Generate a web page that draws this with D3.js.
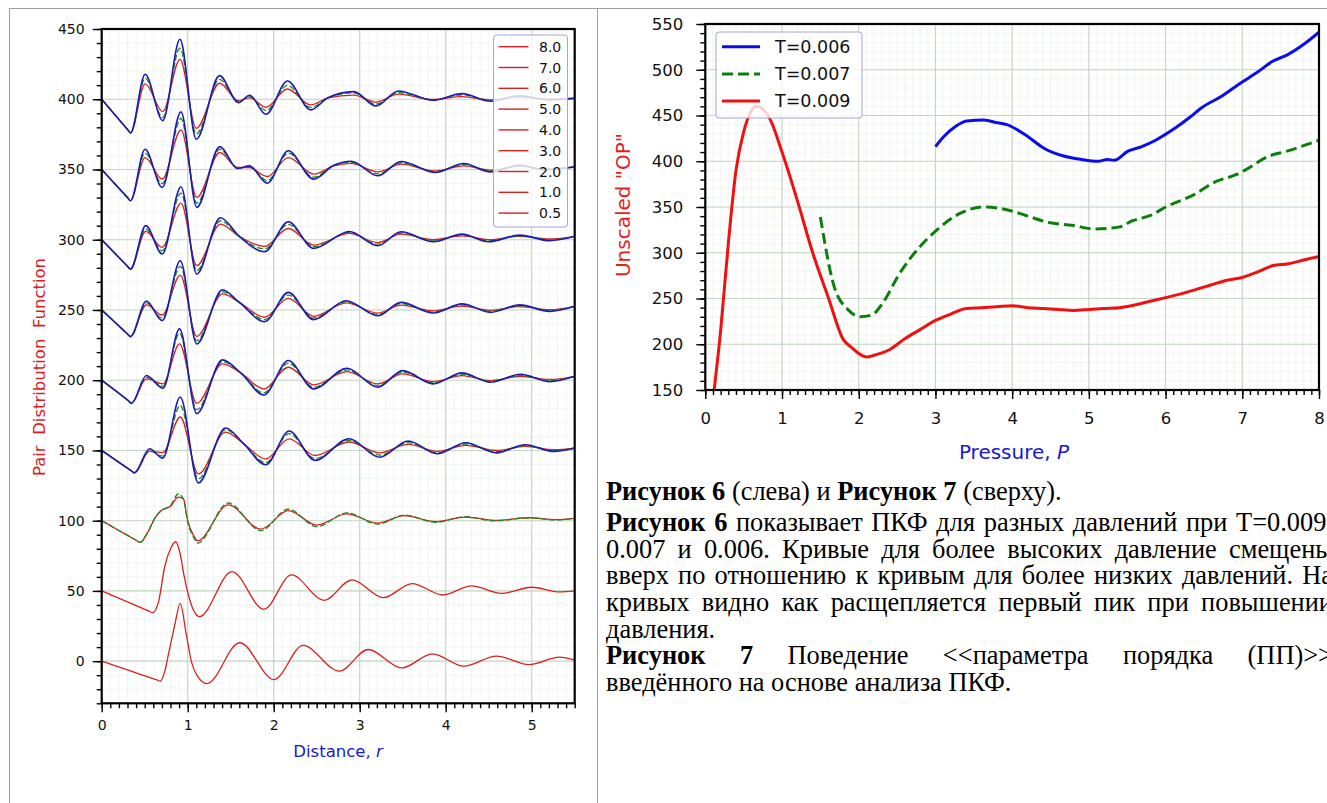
<!DOCTYPE html>
<html lang="ru">
<head>
<meta charset="UTF-8">
<title>ПКФ и параметр порядка</title>
<script src="https://cdn.jsdelivr.net/npm/d3@7"></script>
<style>
  body { margin: 0; background: #fff; }
  #page { position: relative; width: 1327px; height: 803px; overflow: hidden; }
</style>
</head>
<body>
<div id="page"></div>
<script>
// ---------- Figure 6: pair distribution function, one curve per pressure ----------
// every curve is shifted by 50 (values below already include the shift)
var pressureLabels = ["8.0", "7.0", "6.0", "5.0", "4.0", "3.0", "2.0", "1.0", "0.5"];

var r80     = [0, 0.16, 0.30, 0.335, 0.505, 0.71, 0.91, 1.10, 1.37, 1.59, 1.72, 1.91, 2.16, 2.43, 2.63, 2.93, 3.19, 3.45, 3.85, 4.19, 4.52, 4.86, 5.19, 5.5];
var blue80  = [400, 388.5, 378.5, 376, 417.8, 384.8, 442.7, 371.5, 416.8, 397.6, 402.8, 389.3, 413.0, 392.4, 401, 405.4, 395.2, 405.9, 399.3, 404.0, 398.6, 402.5, 399.5, 400.8];
var green80 = [400, 388.5, 378.5, 376, 414.9, 387.1, 436.3, 375.3, 414.2, 398.2, 402, 392.0, 409.9, 394.2, 401, 404.5, 396.5, 404.8, 399.5, 403.2, 399, 402, 399.8, 400.6];
var red80   = [400, 388.5, 378.5, 376.2, 410.9, 391.2, 428.4, 379.3, 411.4, 399, 401, 394.3, 407.3, 396.0, 401, 403.0, 398.0, 403.6, 399.8, 401.9, 399.5, 401.5, 400, 400.5];

var r70     = [0, 0.16, 0.30, 0.334, 0.504, 0.704, 0.922, 1.105, 1.373, 1.58, 1.716, 1.925, 2.17, 2.464, 2.70, 2.90, 3.21, 3.48, 3.88, 4.21, 4.52, 4.86, 5.15, 5.5];
var blue70  = [350, 339.3, 330, 327.7, 364.4, 337.2, 391.0, 323.0, 366.3, 350.7, 352.6, 340.3, 363.3, 343.1, 353, 355.9, 345.5, 355.7, 347.9, 354.3, 348.3, 353, 349.8, 351.9];
var green70 = [350, 339.3, 330, 327.7, 361.6, 340, 386.3, 326, 364.4, 351, 352, 342, 361.6, 344.5, 353, 355.1, 346.8, 354.8, 348.4, 353.5, 348.8, 352.7, 350, 351.8];
var red70   = [350, 339.3, 330, 327.9, 358.5, 343.1, 378.2, 330.1, 362.1, 351.4, 351.4, 345, 358.5, 346.7, 352.5, 354.3, 348.3, 353.8, 349, 352.6, 349.5, 352.4, 350.2, 351.7];

var r60     = [0, 0.16, 0.30, 0.334, 0.512, 0.704, 0.922, 1.105, 1.38, 1.60, 1.894, 2.17, 2.464, 2.88, 3.21, 3.48, 3.855, 4.19, 4.50, 4.86, 5.21, 5.5];
var blue60  = [300, 289.9, 281.1, 279, 310, 289.8, 337.7, 275.6, 315.6, 302.4, 291.5, 312.8, 293.8, 305.9, 295.7, 305.7, 298.6, 304, 298.6, 303.3, 299.3, 302.4];
var green60 = [300, 289.9, 281.1, 279, 307.6, 292.2, 333.2, 278, 313.5, 302.4, 293.4, 310.9, 295, 305.2, 296.8, 304.8, 299.2, 303.4, 299.2, 302.8, 299.8, 302.4];
var red60   = [300, 289.9, 281.1, 279.2, 305.9, 294.6, 326.1, 281.5, 311.1, 302.4, 295.2, 308.0, 296.2, 304.5, 298, 304, 300, 302.8, 300, 302.4, 300.5, 302.4];

var r50     = [0, 0.16, 0.30, 0.334, 0.52, 0.704, 0.914, 1.105, 1.404, 1.60, 1.894, 2.17, 2.464, 2.843, 3.21, 3.48, 3.855, 4.19, 4.52, 4.86, 5.21, 5.5];
var blue50  = [250, 240.9, 232.9, 231, 256.4, 242.4, 285, 225.8, 264.4, 255.4, 241.7, 262.5, 243.1, 256.6, 245.9, 255.4, 247.8, 254.3, 248.3, 253.6, 249, 252.6];
var green50 = [250, 240.9, 232.9, 231, 255, 244.1, 281, 228.1, 263, 255.4, 243.1, 260.6, 244.3, 255.8, 246.8, 254.5, 248.5, 253.5, 249, 253, 249.6, 252.6];
var red50   = [250, 240.9, 232.9, 231.2, 253.6, 246.4, 274.8, 231.2, 261.4, 255.4, 244.8, 258.3, 245.5, 255, 247.8, 253.5, 249.3, 252.8, 249.7, 252.4, 250.2, 252.6];

var r40     = [0, 0.16, 0.31, 0.345, 0.52, 0.713, 0.905, 1.105, 1.404, 1.62, 1.885, 2.17, 2.464, 2.852, 3.21, 3.50, 3.855, 4.19, 4.52, 4.87, 5.21, 5.5];
var blue40  = [200, 192.5, 185.4, 183.5, 203.3, 194.3, 236.5, 176.2, 214.5, 205, 189.5, 214, 193.8, 208.5, 195, 206.8, 197.4, 205.2, 198.5, 204.2, 199, 202.8];
var green40 = [200, 192.5, 185.4, 183.5, 202, 195.7, 233.4, 179, 213.2, 205, 191, 212.1, 195, 207.3, 196.2, 205.7, 198.2, 204.2, 199.1, 203.5, 199.7, 202.8];
var red40   = [200, 192.5, 185.4, 183.7, 200.9, 197.4, 225.8, 183.5, 211.6, 205, 193.8, 209.2, 196.7, 206.1, 197.4, 204.5, 199, 203.3, 199.7, 202.8, 200.5, 202.8];

var r30     = [0, 0.18, 0.34, 0.379, 0.557, 0.71, 0.914, 1.123, 1.44, 1.65, 1.907, 2.18, 2.48, 2.874, 3.23, 3.565, 3.90, 4.233, 4.59, 4.924, 5.26, 5.5];
var blue30  = [150, 142.4, 135.7, 134, 151.2, 144.5, 188, 126.9, 166, 154.8, 139.8, 163.8, 142.9, 158.3, 145.2, 156.7, 147.6, 155.5, 148.3, 154, 149.3, 151.7];
var green30 = [150, 142.4, 135.7, 134, 149.5, 146, 182, 129.8, 164.8, 154.8, 141.2, 161.9, 144.2, 157.2, 146.7, 155.5, 148.4, 154.6, 149.1, 153.4, 149.8, 151.7];
var red30   = [150, 142.4, 135.7, 134.2, 149.5, 148.5, 173.8, 133.3, 163.1, 154.8, 144, 158.3, 146.4, 156, 148.3, 154.3, 149.3, 153.6, 150, 152.9, 150.5, 151.7];

var r20     = [0, 0.2, 0.40, 0.446, 0.535, 0.624, 0.69, 0.80, 0.89, 0.95, 1.0, 1.07, 1.114, 1.47, 1.85, 2.17, 2.50, 2.85, 3.21, 3.52, 3.88, 4.23, 4.57, 4.97, 5.28, 5.5];
var green20 = [100, 93, 86.1, 84.5, 91.7, 102.4, 107.1, 110.8, 119, 115.5, 99, 88, 84, 112.6, 92.9, 108.3, 95.7, 105.5, 97.6, 104, 98.8, 102.9, 99.8, 102.1, 100.5, 101.7];
var red20   = [100, 93, 86.1, 84.5, 91.7, 102.4, 107.1, 110.2, 116.7, 115.5, 100, 89.3, 85.7, 111.2, 94, 107.1, 96.9, 104.8, 98.3, 103.6, 99.3, 102.6, 100.2, 102.1, 100.7, 101.7];

var r10   = [0, 0.30, 0.55, 0.593, 0.66, 0.735, 0.80, 0.86, 0.91, 0.958, 1.047, 1.136, 1.515, 1.885, 2.206, 2.585, 2.91, 3.275, 3.61, 3.966, 4.30, 4.648, 5.0, 5.325, 5.5];
var red10 = [50, 42.2, 35.6, 34.5, 42, 67.9, 80, 85, 77, 60.7, 39.3, 31.7, 63.8, 36.9, 61.4, 43.3, 57.9, 45.2, 55.2, 47.1, 53.6, 48.3, 52.6, 49.3, 50];

var r05   = [0, 0.35, 0.64, 0.682, 0.73, 0.78, 0.847, 0.914, 0.98, 1.047, 1.114, 1.225, 1.604, 2.005, 2.34, 2.763, 3.097, 3.49, 3.846, 4.21, 4.59, 4.97, 5.325, 5.5];
var red05 = [0, -7.3, -13.4, -14.3, -8, 6, 25, 41.2, 20.2, -1.2, -10.7, -16, 13.1, -13.1, 11.2, -7.1, 8.3, -4.8, 5.2, -3.6, 3.6, -2.4, 2.9, 0.7];

var leftXTicks = [0, 1, 2, 3, 4, 5];
var leftYTicks = [0, 50, 100, 150, 200, 250, 300, 350, 400, 450];

// ---------- Figure 7: unscaled order parameter vs pressure ----------
var tempLabels = ["T=0.006", "T=0.007", "T=0.009"];

var pBlue  = [3.0, 3.11, 3.26, 3.41, 3.63, 3.81, 3.93, 4.17, 4.42, 4.66, 4.9, 5.12, 5.24, 5.33, 5.51, 5.69, 5.87, 6.12, 6.3, 6.48, 6.73, 6.97, 7.21, 7.39, 7.58, 7.82, 8.0];
var opBlue = [416, 427, 438, 444, 445, 442, 440, 429, 414, 406, 402, 400, 402, 401, 411, 416, 423, 436, 447, 459, 471, 485, 498, 509, 516, 529, 541];

var pGreen  = [1.5, 1.68, 1.87, 2.02, 2.17, 2.32, 2.53, 2.78, 3.02, 3.32, 3.63, 3.93, 4.17, 4.48, 4.78, 5.08, 5.39, 5.57, 5.81, 6.0, 6.36, 6.66, 6.91, 7.03, 7.33, 7.58, 8.0];
var opGreen = [339, 263, 237, 230, 232, 246, 277, 305, 325, 343, 350, 347, 341, 333, 330, 326, 328, 335, 341, 350, 363, 378, 385, 390, 405, 411, 423];

var pRed  = [0.115, 0.2, 0.3, 0.4, 0.5, 0.6, 0.67, 0.75, 0.85, 1.0, 1.2, 1.4, 1.6, 1.8, 1.9, 2.0, 2.1, 2.2, 2.4, 2.6, 2.8, 3.0, 3.2, 3.4, 3.6, 3.8, 4.0, 4.2, 4.4, 4.6, 4.8, 5.0, 5.2, 5.4, 5.6, 5.8, 6.0, 6.2, 6.4, 6.6, 6.8, 7.0, 7.2, 7.4, 7.6, 7.8, 8.0];
var opRed = [150, 215, 310, 390, 432, 455, 460, 457, 445, 410, 357, 300, 252, 205, 197, 190, 186, 188, 194, 206, 216, 226, 233, 239, 240, 241, 242, 240, 239, 238, 237, 238, 239, 240, 243, 247, 251, 255, 260, 265, 270, 273, 279, 286, 288, 292, 296];

var rightXTicks = [0, 1, 2, 3, 4, 5, 6, 7, 8];
var rightYTicks = [150, 200, 250, 300, 350, 400, 450, 500, 550];

// ---------- caption text (lines as in the document) ----------
var captionLines = [
  {align: "left", words: [["Рисунок", 1], ["6", 1], ["(слева)"], ["и"], ["Рисунок", 1], ["7", 1], ["(сверху)."]]},
  {align: "justify", words: [["Рисунок", 1], ["6", 1], ["показывает"], ["ПКФ"], ["для"], ["разных"], ["давлений"], ["при"], ["T=0.009,"]]},
  {align: "justify", words: "0.007 и 0.006. Кривые для более высоких давление смещены".split(" ").map(function(w) { return [w]; })},
  {align: "justify", words: "вверх по отношению к кривым для более низких давлений. На".split(" ").map(function(w) { return [w]; })},
  {align: "justify", words: "кривых видно как расщепляется первый пик при повышении".split(" ").map(function(w) { return [w]; })},
  {align: "left", words: [["давления."]]},
  {align: "justify", words: [["Рисунок", 1], ["7", 1], ["Поведение"], ["<<параметра"], ["порядка"], ["(ПП)>>"]]},
  {align: "left", words: "введённого на основе анализа ПКФ.".split(" ").map(function(w) { return [w]; })}
];

// ===================================================================
var RED = "#d8211f", GREEN = "#1f8a22", DBLUE = "#1c1cb4";
var svg = d3.select("#page").append("svg").attr("width", 1327).attr("height", 803);

// document table lines
svg.append("line").attr("x1", 9).attr("x2", 1327).attr("y1", 8.5).attr("y2", 8.5).attr("stroke", "#a0a0a0");
svg.append("line").attr("x1", 9.5).attr("x2", 9.5).attr("y1", 8).attr("y2", 803).attr("stroke", "#a0a0a0");
svg.append("line").attr("x1", 597.5).attr("x2", 597.5).attr("y1", 8).attr("y2", 803).attr("stroke", "#a0a0a0");

function drawPanel(g, x, y, o) {
  var x0 = x.range()[0], x1 = x.range()[1], y0 = y.range()[0], y1 = y.range()[1];
  // minor grid
  g.append("g").selectAll("line").data(o.xMinor).join("line")
    .attr("x1", function(d) { return x(d); }).attr("x2", function(d) { return x(d); })
    .attr("y1", y0).attr("y2", y1).attr("stroke", "#edf2ed").attr("stroke-width", 0.8);
  g.append("g").selectAll("line").data(o.yMinor).join("line")
    .attr("y1", function(d) { return y(d); }).attr("y2", function(d) { return y(d); })
    .attr("x1", x0).attr("x2", x1).attr("stroke", "#edf2ed").attr("stroke-width", 0.8);
  // major grid
  g.append("g").selectAll("line").data(o.xMajor).join("line")
    .attr("x1", function(d) { return x(d); }).attr("x2", function(d) { return x(d); })
    .attr("y1", y0).attr("y2", y1).attr("stroke", "#c3d6c3").attr("stroke-width", 1.1);
  g.append("g").selectAll("line").data(o.yMajor).join("line")
    .attr("y1", function(d) { return y(d); }).attr("y2", function(d) { return y(d); })
    .attr("x1", x0).attr("x2", x1).attr("stroke", "#c3d6c3").attr("stroke-width", 1.1);
}

function drawTicks(g, x, y, o) {
  var y0 = y.range()[0], x0 = x.range()[0];
  function style(a) {
    a.select(".domain").remove();
    a.selectAll("line").attr("stroke", "#000").attr("stroke-width", 1.4);
    a.attr("font-family", "DejaVu Sans").attr("font-size", o.font);
    a.selectAll("text").attr("fill", "#111");
  }
  g.append("g").attr("transform", "translate(0," + y0 + ")")
    .call(d3.axisBottom(x).tickValues(o.xMinor).tickSize(5).tickFormat("")).call(style);
  g.append("g").attr("transform", "translate(0," + y0 + ")")
    .call(d3.axisBottom(x).tickValues(o.xMajor).tickSize(9).tickPadding(o.xPad).tickFormat(d3.format("d"))).call(style);
  g.append("g").attr("transform", "translate(" + x0 + ",0)")
    .call(d3.axisLeft(y).tickValues(o.yMinor).tickSize(5).tickFormat("")).call(style);
  g.append("g").attr("transform", "translate(" + x0 + ",0)")
    .call(d3.axisLeft(y).tickValues(o.yMajor).tickSize(9).tickPadding(o.yPad).tickFormat(d3.format("d"))).call(style);
  g.append("rect").attr("x", x0).attr("y", y.range()[1])
    .attr("width", x.range()[1] - x0).attr("height", y0 - y.range()[1])
    .attr("fill", "none").attr("stroke", "#000").attr("stroke-width", 2.2);
}

// ---------------- left panel ----------------
var lx = d3.scaleLinear().domain([0, 5.5]).range([101.7, 574.7]);
var ly = d3.scaleLinear().domain([-30, 450]).range([703.3, 29]);
var left = svg.append("g");
var leftOpts = {
  xMinor: d3.range(0, 55.01, 1).map(function(d) { return d / 10; }),
  yMinor: d3.range(-30, 451, 10),
  xMajor: leftXTicks, yMajor: leftYTicks, font: 14, xPad: 8, yPad: 8
};
drawPanel(left, lx, ly, leftOpts);

svg.append("clipPath").attr("id", "clipL").append("rect")
  .attr("x", 101.7).attr("y", 29).attr("width", 473).attr("height", 674.3);
var curvesL = left.append("g").attr("clip-path", "url(#clipL)");

var pdf = [
  {r: r80, red: red80, green: green80, blue: blue80},
  {r: r70, red: red70, green: green70, blue: blue70},
  {r: r60, red: red60, green: green60, blue: blue60},
  {r: r50, red: red50, green: green50, blue: blue50},
  {r: r40, red: red40, green: green40, blue: blue40},
  {r: r30, red: red30, green: green30, blue: blue30},
  {r: r20, red: red20, green: green20},
  {r: r10, red: red10},
  {r: r05, red: red05}
];

function pdfLine(rs) {
  return d3.line()
    .x(function(d, i) { return lx(rs[i]); })
    .y(function(d) { return ly(d); })
    .curve(d3.curveMonotoneX);
}

pdf.forEach(function(c) {
  var line = pdfLine(c.r);
  if (c.red) curvesL.append("path").attr("d", line(c.red)).attr("fill", "none")
    .attr("stroke", RED).attr("stroke-width", 1.3);
  if (c.green) curvesL.append("path").attr("d", line(c.green)).attr("fill", "none")
    .attr("stroke", GREEN).attr("stroke-width", 1.3).attr("stroke-dasharray", "6,2.5");
  if (c.blue) curvesL.append("path").attr("d", line(c.blue)).attr("fill", "none")
    .attr("stroke", DBLUE).attr("stroke-width", 1.6);
});

drawTicks(left, lx, ly, leftOpts);

// left legend
var legL = left.append("g");
legL.append("rect").attr("x", 493.5).attr("y", 35).attr("width", 74).attr("height", 192).attr("rx", 3)
  .attr("fill", "rgba(255,255,255,0.8)").attr("stroke", "#a4a4dc");
pressureLabels.forEach(function(lab, i) {
  var yy = 46.7 + i * 20.8;
  legL.append("line").attr("x1", 498.5).attr("x2", 528.5).attr("y1", yy).attr("y2", yy)
    .attr("stroke", RED).attr("stroke-width", 1.4);
  legL.append("text").attr("x", 539).attr("y", yy).attr("dy", "0.36em")
    .attr("font-family", "DejaVu Sans").attr("font-size", 14).attr("fill", "#111").text(lab);
});

// left axis titles
left.append("text").attr("x", 338).attr("y", 756.5).attr("text-anchor", "middle")
  .attr("font-family", "DejaVu Sans").attr("font-size", 16.5).attr("fill", "#1818d0")
  .text("Distance, ").append("tspan").attr("font-style", "italic").text("r");
left.append("text").attr("transform", "translate(45,367) rotate(-90)").attr("text-anchor", "middle")
  .attr("font-family", "DejaVu Sans").attr("font-size", 16.5).attr("fill", "#dd1c1c")
  .style("white-space", "pre").text("Pair  Distribution  Function");

// ---------------- right panel ----------------
var rx = d3.scaleLinear().domain([0, 8]).range([705.3, 1319]);
var ry = d3.scaleLinear().domain([150, 550]).range([390, 24]);
var right = svg.append("g");
var rightOpts = {
  xMinor: d3.range(0, 80.01, 1).map(function(d) { return d / 10; }),
  yMinor: d3.range(150, 551, 10),
  xMajor: rightXTicks, yMajor: rightYTicks, font: 16.5, xPad: 13, yPad: 13
};
drawPanel(right, rx, ry, rightOpts);

svg.append("clipPath").attr("id", "clipR").append("rect")
  .attr("x", 705.3).attr("y", 24).attr("width", 613.7).attr("height", 366);
var curvesR = right.append("g").attr("clip-path", "url(#clipR)");

function opLine(ps) {
  return d3.line()
    .x(function(d, i) { return rx(ps[i]); })
    .y(function(d) { return ry(d); })
    .curve(d3.curveMonotoneX);
}
curvesR.append("path").attr("d", opLine(pBlue)(opBlue)).attr("fill", "none")
  .attr("stroke", "#0b0bf0").attr("stroke-width", 3);
curvesR.append("path").attr("d", opLine(pGreen)(opGreen)).attr("fill", "none")
  .attr("stroke", "#0a800a").attr("stroke-width", 3).attr("stroke-dasharray", "11,5");
curvesR.append("path").attr("d", opLine(pRed)(opRed)).attr("fill", "none")
  .attr("stroke", "#f01010").attr("stroke-width", 3);

drawTicks(right, rx, ry, rightOpts);

// right legend
var legR = right.append("g");
legR.append("rect").attr("x", 716).attr("y", 32).attr("width", 146).attr("height", 86).attr("rx", 3)
  .attr("fill", "rgba(255,255,255,0.8)").attr("stroke", "#a4a4dc");
var legColors = ["#0b0bf0", "#0a800a", "#f01010"];
tempLabels.forEach(function(lab, i) {
  var yy = 46.7 + i * 27.2;
  legR.append("line").attr("x1", 722).attr("x2", 760).attr("y1", yy).attr("y2", yy)
    .attr("stroke", legColors[i]).attr("stroke-width", 3)
    .attr("stroke-dasharray", i === 1 ? "11,5" : null);
  legR.append("text").attr("x", 775).attr("y", yy).attr("dy", "0.36em")
    .attr("font-family", "DejaVu Sans").attr("font-size", 17.5).attr("fill", "#111").text(lab);
});

right.append("text").attr("x", 1014).attr("y", 459).attr("text-anchor", "middle")
  .attr("font-family", "DejaVu Sans").attr("font-size", 20).attr("fill", "#1818d0")
  .text("Pressure, ").append("tspan").attr("font-style", "italic").text("P");
right.append("text").attr("transform", "translate(630,205) rotate(-90)").attr("text-anchor", "middle")
  .attr("font-family", "DejaVu Sans").attr("font-size", 20).attr("fill", "#e41e1e")
  .text("Unscaled \"OP\"");

// ---------------- caption ----------------
var cap = svg.append("g").attr("font-family", "Liberation Serif").attr("font-size", 26.4).attr("fill", "#000");
var capLeft = 606, capWidth = 727, capTop = 499.5, capLead = 26.6;
captionLines.forEach(function(line, li) {
  var yy = capTop + li * capLead + (li > 0 ? 5 : 0);
  var words = line.words.map(function(w) {
    var t = cap.append("text").attr("y", yy).attr("font-weight", w[1] ? "bold" : "normal").text(w[0]);
    return {node: t, w: t.node().getComputedTextLength()};
  });
  var total = d3.sum(words, function(d) { return d.w; });
  var gap = line.align === "justify" && words.length > 1 ? (capWidth - total) / (words.length - 1) : 6.6;
  gap = Math.max(gap, 4);
  var xx = capLeft;
  words.forEach(function(d) { d.node.attr("x", xx); xx += d.w + gap; });
});
</script>
</body>
</html>
